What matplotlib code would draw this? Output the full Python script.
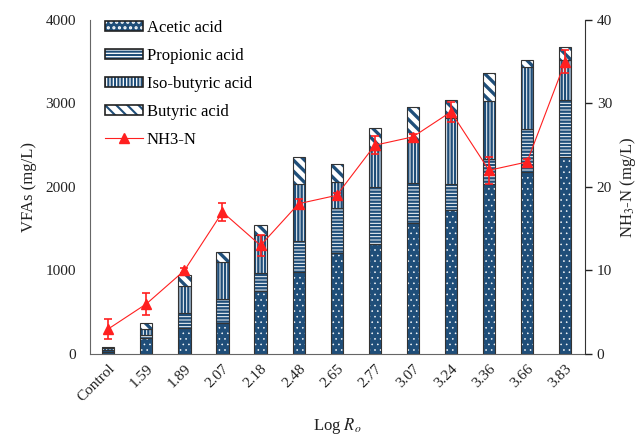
import numpy as np
import matplotlib
matplotlib.use('Agg')
import matplotlib.pyplot as plt
from matplotlib.patches import Patch
from matplotlib.lines import Line2D
from matplotlib.legend_handler import HandlerTuple

plt.rcParams['font.family'] = ['Liberation Serif', 'DejaVu Serif']
plt.rcParams['mathtext.fontset'] = 'stix'

labels = ['Control', '1.59', '1.89', '2.07', '2.18', '2.48', '2.65',
          '2.77', '3.07', '3.24', '3.36', '3.66', '3.83']

# VFAs (mg/L), stacked from bottom
acetic = [20, 190, 307, 375, 758, 977, 1206, 1317, 1573, 1725, 2036, 2184, 2356]
propionic = [30, 35, 180, 284, 208, 381, 539, 679, 479, 307, 296, 511, 686]
isobutyric = [20, 75, 327, 447, 459, 678, 315, 447, 511, 790, 702, 738, 479]
butyric = [15, 70, 132, 112, 120, 318, 215, 259, 390, 220, 327, 88, 152]

# NH3-N (mg/L) with error
nh3 = [3.0, 6.0, 10.0, 17.0, 13.0, 18.0, 19.0, 25.0, 26.0, 29.0, 22.0, 23.0, 35.0]
nh3_err = [1.2, 1.3, 0.3, 1.1, 1.3, 0.6, 0.3, 1.1, 0.3, 1.2, 1.6, 0.3, 1.4]

blue = '#1f4e79'
red = '#ff2020'
x = np.arange(len(labels))
w = 0.32

fig, ax = plt.subplots(figsize=(6.4, 4.44), dpi=100)
fig.subplots_adjust(left=0.1406, right=0.914, bottom=0.2027, top=0.955)

# (values, name, face, hatch colour, hatch, hatch width)
series = [
    (acetic, 'Acetic acid', blue, 'white', '...', 0.4),
    (propionic, 'Propionic acid', 'white', blue, '-----', 1.7),
    (isobutyric, 'Iso-butyric acid', 'white', blue, '|||||', 1.7),
    (butyric, 'Butyric acid', 'white', blue, '\\\\\\', 2.4),
]

bottom = np.zeros(len(labels))
handles = []
for vals, name, fc, hc, hatch, hlw in series:
    vals = np.array(vals, dtype=float)
    with plt.rc_context({'hatch.linewidth': hlw}):
        ax.bar(x, vals, w, bottom=bottom, color=fc, edgecolor=hc,
               hatch=hatch, linewidth=0)
    ax.bar(x, vals, w, bottom=bottom, fill=False, edgecolor='#333333',
           linewidth=0.8)
    fill = Patch(facecolor=fc, edgecolor=hc, hatch=hatch, linewidth=0)
    outline = Patch(fill=False, edgecolor='#222222', linewidth=1.2)
    handles.append((fill, outline))
    bottom += vals

ax.set_xlim(-0.48, 12.52)
ax.set_ylim(0, 4000)
ax.set_yticks([0, 1000, 2000, 3000, 4000])
ax.set_xticks(x)
ax.set_xticklabels(labels, rotation=45, ha='right', rotation_mode='anchor')
ax.tick_params(axis='x', length=0, labelsize=11, pad=6, colors='#222222')
ax.tick_params(axis='y', length=0, labelsize=11, pad=10, colors='#222222')
ax.set_ylabel('VFAs (mg/L)', fontsize=12, color='#222222', labelpad=6)
ax.set_xlabel(r'Log $R_o$', fontsize=12, color='#222222', labelpad=8)
for s in ['top', 'right']:
    ax.spines[s].set_visible(False)
for s in ['left', 'bottom']:
    ax.spines[s].set_color('#666666')

ax2 = ax.twinx()
ax2.set_ylim(0, 40)
ax2.set_yticks([0, 10, 20, 30, 40])
ax2.errorbar(x, nh3, yerr=nh3_err, color=red, marker='^', markersize=7,
             linewidth=0.8, elinewidth=1.2, capsize=3, capthick=1.2)
ax2.tick_params(axis='y', length=5, width=1, labelsize=11, colors='#222222')
ax2.set_ylabel(r'NH$_3$-N (mg/L)', fontsize=12, color='#222222')
for s in ['top', 'left', 'bottom']:
    ax2.spines[s].set_visible(False)
ax2.spines['right'].set_color('#333333')

nh3_handle = Line2D([], [], color=red, marker='^', markersize=7, linewidth=0.8)
names = [s[1] for s in series] + ['NH3-N']
with plt.rc_context({'hatch.linewidth': 1.5}):
    leg = ax2.legend(handles + [nh3_handle], names, loc='upper left',
                     bbox_to_anchor=(0.0, 1.045), frameon=False,
                     fontsize=12, labelspacing=0.72, handlelength=2.3,
                     handleheight=0.6, handletextpad=0.2,
                     handler_map={tuple: HandlerTuple(ndivide=1, pad=0)})

fig.savefig('out.png', dpi=100)
